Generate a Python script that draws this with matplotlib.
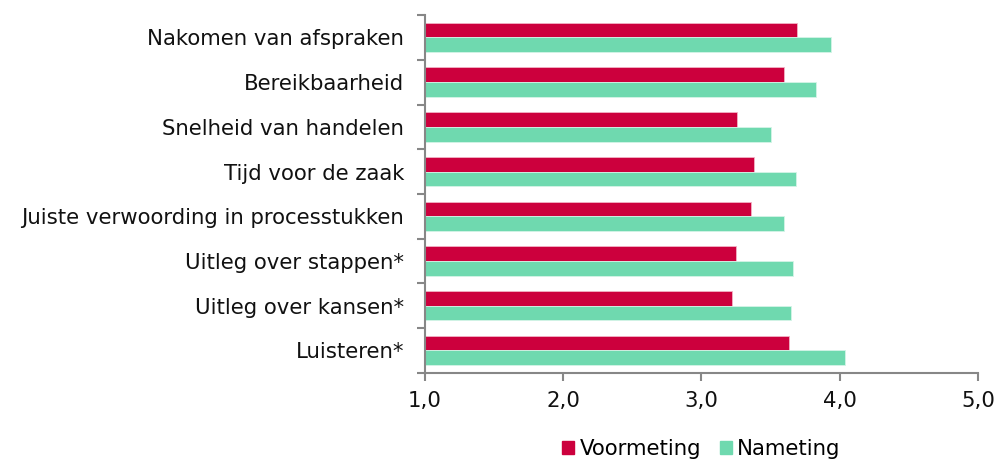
import numpy as np
import matplotlib.pyplot as plt
from matplotlib.patches import Patch
from matplotlib.ticker import FixedLocator, FuncFormatter

categories = ['Nakomen van afspraken', 'Bereikbaarheid', 'Snelheid van handelen',
              'Tijd voor de zaak', 'Juiste verwoording in processtukken',
              'Uitleg over stappen*', 'Uitleg over kansen*', 'Luisteren*']
voormeting = [3.69, 3.60, 3.26, 3.38, 3.36, 3.25, 3.22, 3.63]
nameting = [3.94, 3.83, 3.50, 3.68, 3.60, 3.66, 3.65, 4.04]

red = '#CC003D'
green = '#6FD9AF'
grey = '#878787'
fs = 15.3

fig = plt.figure(figsize=(9.95, 4.59), dpi=100)
ax = fig.add_axes([0.427, 0.188, 0.556, 0.779])

y = np.arange(len(categories))[::-1]
h = 0.329
ax.barh(y + h / 2, np.array(voormeting) - 1, left=1, height=h, color=red,
        edgecolor='#f2b3c5', linewidth=0.6)
ax.barh(y - h / 2, np.array(nameting) - 1, left=1, height=h, color=green,
        edgecolor='#d4f4e7', linewidth=0.6)

ax.set_xlim(1, 5)
ax.set_ylim(-0.5, len(categories) - 0.5)
ax.set_xticks([1, 2, 3, 4, 5])
ax.xaxis.set_major_formatter(FuncFormatter(lambda v, p: f'{v:.1f}'.replace('.', ',')))
ax.set_yticks(y)
ax.set_yticklabels(categories)
ax.yaxis.set_minor_locator(FixedLocator(np.arange(-0.5, len(categories), 1)))
ax.tick_params(axis='y', which='major', length=0, pad=15, labelsize=fs, colors='#111111')
ax.tick_params(axis='y', which='minor', length=6, width=1.5, color=grey)
ax.tick_params(axis='x', length=6, width=1.5, color=grey, labelsize=fs,
               labelcolor='#111111', pad=7)

for s in ['top', 'right']:
    ax.spines[s].set_visible(False)
for s in ['left', 'bottom']:
    ax.spines[s].set_color(grey)
    ax.spines[s].set_linewidth(1.5)

handles = [Patch(color=red, label='Voormeting'), Patch(color=green, label='Nameting')]
fig.legend(handles=handles, loc='center', bbox_to_anchor=(0.705, 0.022), ncol=2,
           frameon=False, fontsize=fs, handlelength=0.55, handleheight=0.55,
           handletextpad=0.25, columnspacing=0.9, borderpad=0)

fig.savefig('out.png', dpi=100)
